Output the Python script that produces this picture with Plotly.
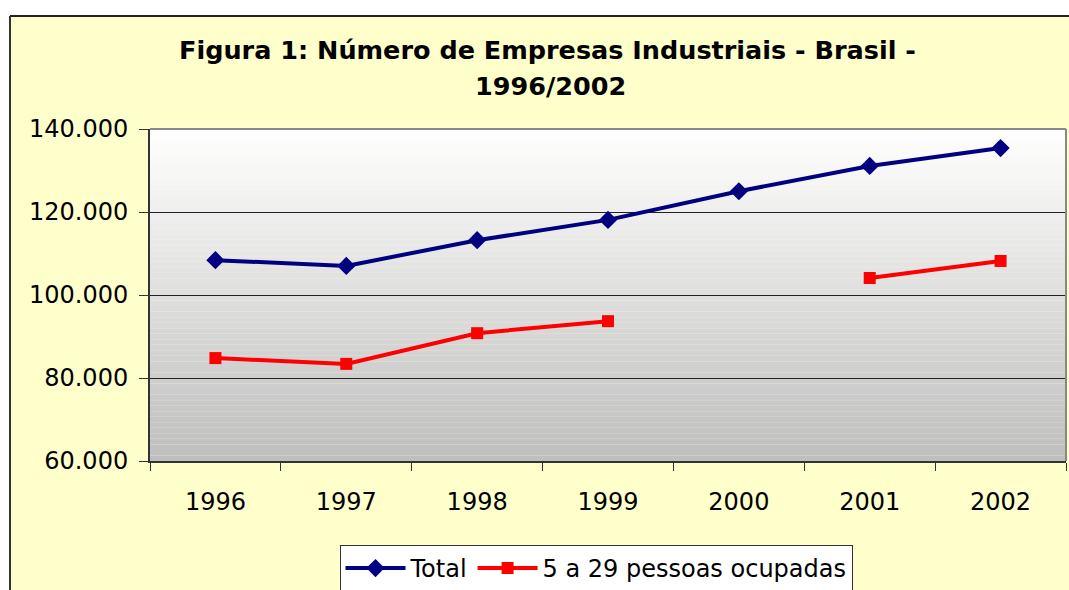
import plotly.graph_objects as go

years = ["1996", "1997", "1998", "1999", "2000", "2001", "2002"]
total = [108400, 107000, 113200, 118100, 125000, 131100, 135400]
pequenas = [84800, 83400, 90800, 93700, None, 104100, 108200]
title_line1 = "Figura 1: Número de Empresas Industriais - Brasil -"
title_line2 = "1996/2002"
y_ticks = [60000, 80000, 100000, 120000, 140000]
y_tick_text = ["60.000", "80.000", "100.000", "120.000", "140.000"]

W, H = 1069, 590
L, R, T, B = 150, 1066, 129, 461

def px_x(p):
    return (p - L) / (R - L)

def px_y(p):
    return (B - p) / (B - T)

fig = go.Figure()
fig.add_trace(go.Scatter(
    x=years, y=total, name="Total", mode="lines+markers",
    line=dict(color="#000080", width=4),
    marker=dict(symbol="diamond", size=14, color="#000080"),
))
fig.add_trace(go.Scatter(
    x=years, y=pequenas, name="5 a 29 pessoas ocupadas", mode="lines+markers",
    connectgaps=False,
    line=dict(color="#FF0000", width=4),
    marker=dict(symbol="square", size=12, color="#FF0000"),
))

shapes = []
# gradient plot background
n = 60
for i in range(n):
    t = (i + 0.5) / n
    v = int(round(255 - (255 - 190) * t))
    col = f"rgb({v},{v},{v})"
    shapes.append(dict(type="rect", xref="x domain", yref="y domain",
                       x0=0, x1=1, y0=1 - (i + 1) / n, y1=1 - i / n,
                       fillcolor=col, line=dict(width=0), layer="below"))
# white area outside chart border
shapes.append(dict(type="rect", xref="paper", yref="paper",
                   x0=px_x(-5), x1=px_x(W + 5), y0=px_y(16), y1=px_y(-5),
                   fillcolor="white", line=dict(width=0), layer="below"))
shapes.append(dict(type="rect", xref="paper", yref="paper",
                   x0=px_x(-5), x1=px_x(10), y0=px_y(H + 5), y1=px_y(-5),
                   fillcolor="white", line=dict(width=0), layer="below"))
# chart border
shapes.append(dict(type="line", xref="paper", yref="paper",
                   x0=px_x(10), x1=px_x(W + 5), y0=px_y(16), y1=px_y(16),
                   line=dict(color="#222222", width=2), layer="above"))
shapes.append(dict(type="line", xref="paper", yref="paper",
                   x0=px_x(10), x1=px_x(10), y0=px_y(16), y1=px_y(H + 5),
                   line=dict(color="#333333", width=2), layer="above"))
# plot area top/right gray border
shapes.append(dict(type="line", xref="x domain", yref="y domain",
                   x0=0, x1=1, y0=1, y1=1, line=dict(color="#888888", width=2), layer="above"))
shapes.append(dict(type="line", xref="x domain", yref="y domain",
                   x0=1, x1=1, y0=0, y1=1, line=dict(color="#888888", width=2), layer="above"))

title_font = dict(family="DejaVu Sans", size=25.5, color="black")
annotations = [
    dict(text="<b>" + title_line1 + "</b>", xref="paper", yref="paper",
         x=px_x(547), y=px_y(50), xanchor="center", yanchor="middle", showarrow=False,
         font=title_font),
    dict(text="<b>" + title_line2 + "</b>", xref="paper", yref="paper",
         x=px_x(550), y=px_y(86), xanchor="center", yanchor="middle", showarrow=False,
         font=title_font),
]

fig.update_layout(
    width=W, height=H,
    margin=dict(l=L, r=W - R, t=T, b=H - B, autoexpand=False),
    paper_bgcolor="#FFFFCC",
    plot_bgcolor="rgba(0,0,0,0)",
    font=dict(family="DejaVu Sans", size=24, color="black"),
    showlegend=True,
    legend=dict(orientation="h", x=px_x(596), xanchor="center", y=px_y(545), yanchor="top",
                bgcolor="white", bordercolor="#333333", borderwidth=1,
                font=dict(family="DejaVu Sans", size=24, color="black"),
                itemwidth=60, tracegroupgap=0),
    shapes=shapes,
    annotations=annotations,
)
fig.update_xaxes(type="category", range=[-0.5, 6.5], showgrid=False, showline=True,
                 linecolor="#333333", linewidth=2,
                 ticks="outside", tickson="boundaries", ticklen=8, tickcolor="#333333",
                 ticklabelstandoff=18, zeroline=False, fixedrange=True)
fig.update_yaxes(range=[60000, 140000], tickvals=y_ticks, ticktext=y_tick_text,
                 showgrid=True, gridcolor="#222222", gridwidth=1,
                 showline=True, linecolor="#333333", linewidth=2,
                 ticks="outside", ticklen=9, tickcolor="#333333",
                 ticklabelstandoff=6, zeroline=False, fixedrange=True)

fig.write_html("out.html", config={"displayModeBar": False},
               post_script="document.body.style.margin='0';document.body.style.overflow='hidden';")
